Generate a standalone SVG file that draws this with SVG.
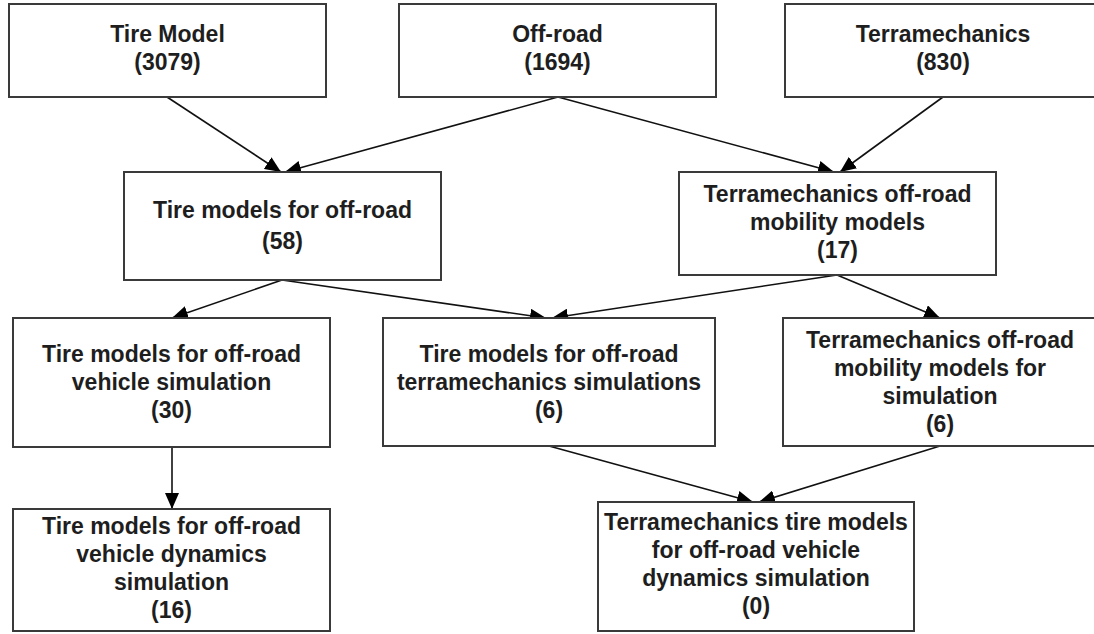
<svg xmlns="http://www.w3.org/2000/svg" width="1094" height="634" viewBox="0 0 1094 634">
<defs>
<marker id="arr" markerUnits="userSpaceOnUse" markerWidth="18" markerHeight="14" refX="16" refY="7" orient="auto">
<path d="M0,0 L16,7 L0,14 Z" fill="#000"/>
</marker>
<style>
.box{fill:#fff;stroke:#3a3a3a;stroke-width:2}
.t{font-family:"Liberation Sans",Arial,sans-serif;font-weight:bold;font-size:23px;fill:#1e1e1e;text-anchor:middle}
.c{stroke:#111;stroke-width:1.6;fill:none;marker-end:url(#arr)}
</style>
</defs>
<rect width="1094" height="634" fill="#fff"/>
<g id="connectors">
<line class="c" x1="167" y1="97" x2="281" y2="172"/>
<line class="c" x1="558" y1="97" x2="285" y2="172"/>
<line class="c" x1="558" y1="97" x2="834" y2="172"/>
<line class="c" x1="943" y1="97" x2="840" y2="172"/>
<line class="c" x1="282" y1="280" x2="172" y2="318"/>
<line class="c" x1="282" y1="280" x2="546" y2="318"/>
<line class="c" x1="837" y1="275" x2="552" y2="318"/>
<line class="c" x1="837" y1="275" x2="940" y2="318"/>
<line class="c" x1="172" y1="447" x2="172" y2="509"/>
<line class="c" x1="549" y1="446" x2="753" y2="502"/>
<line class="c" x1="940" y1="446" x2="759" y2="502"/>
</g>
<g id="tire-model">
<rect class="box" x="9" y="4" width="317" height="93"/>
<text class="t" x="167.5" y="42">Tire Model</text>
<text class="t" x="167.5" y="70">(3079)</text>
</g>
<g id="off-road">
<rect class="box" x="399" y="4" width="317" height="93"/>
<text class="t" x="557.5" y="42">Off-road</text>
<text class="t" x="557.5" y="70">(1694)</text>
</g>
<g id="terramechanics">
<rect class="box" x="785" y="4" width="316" height="93"/>
<text class="t" x="943" y="42">Terramechanics</text>
<text class="t" x="943" y="70">(830)</text>
</g>
<g id="tire-offroad">
<rect class="box" x="124" y="172" width="317" height="108"/>
<text class="t" x="282.5" y="218">Tire models for off-road</text>
<text class="t" x="282.5" y="249">(58)</text>
</g>
<g id="terra-mobility">
<rect class="box" x="679" y="172" width="317" height="103"/>
<text class="t" x="837.5" y="202">Terramechanics off-road</text>
<text class="t" x="837.5" y="230">mobility models</text>
<text class="t" x="837.5" y="258">(17)</text>
</g>
<g id="tire-vehicle-sim">
<rect class="box" x="13" y="318" width="317" height="129"/>
<text class="t" x="171.5" y="362">Tire models for off-road</text>
<text class="t" x="171.5" y="390">vehicle simulation</text>
<text class="t" x="171.5" y="418">(30)</text>
</g>
<g id="tire-terra-sim">
<rect class="box" x="383" y="318" width="332" height="128"/>
<text class="t" x="549" y="362">Tire models for off-road</text>
<text class="t" x="549" y="390">terramechanics simulations</text>
<text class="t" x="549" y="418">(6)</text>
</g>
<g id="terra-mobility-sim">
<rect class="box" x="783" y="318" width="314" height="128"/>
<text class="t" x="940" y="348">Terramechanics off-road</text>
<text class="t" x="940" y="376">mobility models for</text>
<text class="t" x="940" y="404">simulation</text>
<text class="t" x="940" y="432">(6)</text>
</g>
<g id="tire-vehicle-dyn">
<rect class="box" x="13" y="509" width="317" height="122"/>
<text class="t" x="171.5" y="534">Tire models for off-road</text>
<text class="t" x="171.5" y="562">vehicle dynamics</text>
<text class="t" x="171.5" y="590">simulation</text>
<text class="t" x="171.5" y="618">(16)</text>
</g>
<g id="terra-tire-dyn">
<rect class="box" x="598" y="502" width="316" height="129"/>
<text class="t" x="756" y="530">Terramechanics tire models</text>
<text class="t" x="756" y="558">for off-road vehicle</text>
<text class="t" x="756" y="586">dynamics simulation</text>
<text class="t" x="756" y="614">(0)</text>
</g>
</svg>
